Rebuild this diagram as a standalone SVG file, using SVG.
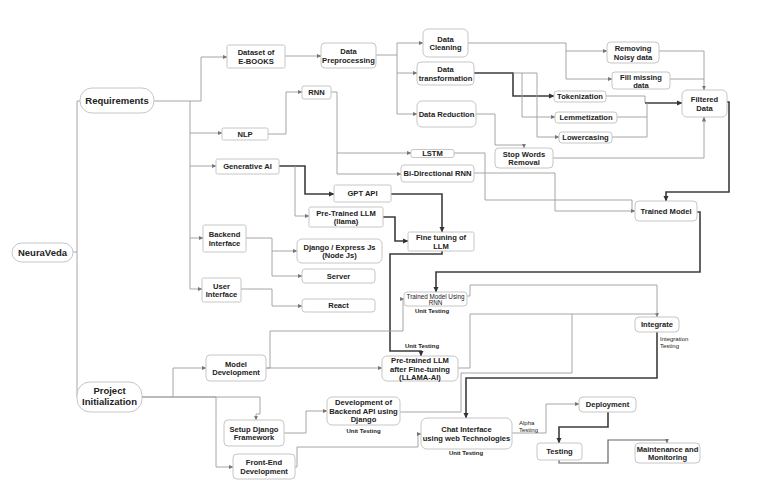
<svg xmlns="http://www.w3.org/2000/svg" width="768" height="497" viewBox="0 0 768 497">
<style>
.n rect{fill:#fff;stroke:#c6c6c6;stroke-width:1}
text{font-family:"Liberation Sans",Arial,sans-serif;font-weight:bold;font-size:7.6px;fill:#222;text-anchor:middle}
.big{font-size:9.5px}
.sm{font-size:6.3px;font-weight:normal}
.lb{font-size:6px}
.ln{font-size:6px;font-weight:normal;text-anchor:start}
.e{fill:none;stroke:#9c9c9c;stroke-width:0.9}
.k{fill:none;stroke:#3c3c3c;stroke-width:1.6}
.a{marker-end:url(#ag)}
.ak{marker-end:url(#ak)}
</style>
<defs>
<marker id="ag" markerUnits="userSpaceOnUse" markerWidth="5" markerHeight="5" refX="4.5" refY="2.5" orient="auto"><path d="M0,0.4 L5,2.5 L0,4.6 z" fill="#777"/></marker>
<marker id="ak" markerUnits="userSpaceOnUse" markerWidth="6" markerHeight="6" refX="5" refY="3" orient="auto"><path d="M0,0.5 L5.5,3 L0,5.5 z" fill="#333"/></marker>
</defs>
<rect width="768" height="497" fill="#fff"/>
<g id="connectors">
<path class="e" d="M80,101 H77 V397 H80"/>
<path class="e" d="M73,252 H77"/>
<path class="e a" d="M154,101 H201 V57 H227"/>
<path class="e a" d="M190,101 V289 H202"/>
<path class="e a" d="M190,133 H222"/>
<path class="e a" d="M190,166 H216"/>
<path class="e a" d="M190,238 H203"/>
<path class="e a" d="M285,56 H321"/>
<path class="e a" d="M376,55 H397 V43 H423"/>
<path class="e a" d="M397,55 V114 H417"/>
<path class="e a" d="M397,73 H417"/>
<path class="e a" d="M468,43 H566 V51 H607"/>
<path class="e a" d="M566,51 V79 H612"/>
<path class="k ak" d="M474,73 H513 V96 H554"/>
<path class="e a" d="M513,73 H537 V137 H559"/>
<path class="e a" d="M522,73 V117 H555"/>
<path class="e" d="M606,96 H645 V103"/>
<path class="k ak" d="M645,103 H682"/>
<path class="e" d="M617,117 H647 V103"/>
<path class="e" d="M612,137 H647 V117"/>
<path class="e a" d="M659,51 H704 V90"/>
<path class="e" d="M670,79 H704"/>
<path class="e a" d="M553,158 H704 V117"/>
<path class="e a" d="M476,114 H495 V145 H524 V148"/>
<path class="k ak" d="M727,102 H729 V192 H666 V201"/>
<path class="e a" d="M268,134 H286 V92 H302"/>
<path class="e a" d="M331,92 H337 V174 H401"/>
<path class="e a" d="M337,153 H411"/>
<path class="e" d="M454,153 H485 V200 H632 V211"/>
<path class="e a" d="M474,173 H555 V211 H635"/>
<path class="k ak" d="M279,166 H305 V194 H334"/>
<path class="e a" d="M295,166 V216 H309"/>
<path class="k ak" d="M391,194 H442 V232"/>
<path class="k ak" d="M383,217 H395 V241 H408"/>
<path class="e a" d="M246,238 H272 V251 H297"/>
<path class="e a" d="M272,251 V276 H302"/>
<path class="e a" d="M241,289 H272 V306 H302"/>
<path class="k ak" d="M442,251 V254 H390 V351 H421 V356"/>
<path class="k ak" d="M697,212 H700 V272 H436 V292"/>
<path class="e a" d="M266,368 H270 V331 H403 V299 H404"/>
<path class="e a" d="M266,368 H382"/>
<path class="e a" d="M467,296 H470 V285 H657 V317"/>
<path class="e" d="M458,368 H470 V314 H657"/>
<path class="e" d="M400,412 H461 V373 H572 V314"/>
<path class="k ak" d="M657,332 V378 H466 V418"/>
<path class="k" d="M142,397 H216" style="stroke:#777;stroke-width:1.2"/>
<path class="e a" d="M173,397 V368 H206"/>
<path class="e a" d="M216,397 H260 V414 H256 V420"/>
<path class="e a" d="M216,397 V467 H233"/>
<path class="e a" d="M284,433 H306 V411 H327"/>
<path class="e a" d="M295,467 H297 V447 H418 V434 H421"/>
<path class="e a" d="M512,433 H546 V404 H579"/>
<path class="k ak" d="M608,412 V427 H559 V443"/>
<path class="e a" d="M559,460 V463 H608 V440 H667 V443" style="stroke:#666;stroke-width:1.2"/>
</g>
<g id="neuraveda" class="n"><rect x="12" y="243" width="61" height="19" rx="9.5"/><text class="big" x="42.5" y="255.5">NeuraVeda</text></g>
<g id="requirements" class="n"><rect x="80" y="88" width="74" height="25" rx="12"/><text class="big" x="117" y="104">Requirements</text></g>
<g id="project-init" class="n"><rect x="77" y="382" width="65" height="30" rx="13"/><text class="big" x="109.5" y="394">Project</text><text class="big" x="109.5" y="405">Initialization</text></g>
<g id="dataset" class="n"><rect x="227" y="45" width="58" height="23" rx="1.5"/><text x="256" y="55">Dataset of</text><text x="256" y="63.5">E-BOOKS</text></g>
<g id="data-preprocessing" class="n"><rect x="321" y="43" width="55" height="25" rx="4"/><text x="348.5" y="54">Data</text><text x="348.5" y="62.5">Preprocessing</text></g>
<g id="data-cleaning" class="n"><rect x="423" y="29" width="45" height="28" rx="5"/><text x="445.5" y="41.5">Data</text><text x="445.5" y="50">Cleaning</text></g>
<g id="data-transformation" class="n"><rect x="417" y="62" width="57" height="23" rx="4"/><text x="445.5" y="72">Data</text><text x="445.5" y="80.5">transformation</text></g>
<g id="data-reduction" class="n"><rect x="417" y="101" width="59" height="26" rx="5"/><text x="446.5" y="116.5">Data Reduction</text></g>
<g id="removing-noisy" class="n"><rect x="607" y="42" width="52" height="21" rx="4"/><text x="633" y="51">Removing</text><text x="633" y="59.5">Noisy data</text></g>
<g id="fill-missing" class="n"><rect x="612" y="72" width="58" height="17" rx="3"/><text x="641" y="79.5">Fill missing</text><text x="641" y="87.5">data</text></g>
<g id="filtered-data" class="n"><rect x="682" y="90" width="45" height="27" rx="5"/><text x="704.5" y="102">Filtered</text><text x="704.5" y="110.5">Data</text></g>
<g id="tokenization" class="n"><rect x="554" y="91" width="52" height="11" rx="3"/><text x="580" y="99">Tokenization</text></g>
<g id="lemmetization" class="n"><rect x="555" y="112" width="62" height="11" rx="3"/><text x="586" y="120">Lemmetization</text></g>
<g id="lowercasing" class="n"><rect x="559" y="132" width="53" height="11" rx="3"/><text x="585.5" y="140">Lowercasing</text></g>
<g id="stop-words" class="n"><rect x="495" y="148" width="58" height="20" rx="4"/><text x="524" y="156.5">Stop Words</text><text x="524" y="165">Removal</text></g>
<g id="rnn" class="n"><rect x="302" y="86" width="29" height="13" rx="2"/><text x="316.5" y="95">RNN</text></g>
<g id="nlp" class="n"><rect x="222" y="128" width="46" height="12" rx="1.5"/><text x="245" y="136.8">NLP</text></g>
<g id="lstm" class="n"><rect x="411" y="149.5" width="43" height="8" rx="2"/><text x="432.5" y="156.3">LSTM</text></g>
<g id="bi-rnn" class="n"><rect x="401" y="165" width="73" height="17" rx="3"/><text x="437.5" y="176.2">Bi-Directional RNN</text></g>
<g id="generative-ai" class="n"><rect x="216" y="159" width="63" height="15" rx="1.5"/><text x="247.5" y="169.2">Generative AI</text></g>
<g id="gpt-api" class="n"><rect x="334" y="185" width="57" height="17" rx="1.5"/><text x="362.5" y="196.2">GPT API</text></g>
<g id="pretrained-llama" class="n"><rect x="309" y="207" width="74" height="20" rx="1.5"/><text x="346" y="215.5">Pre-Trained LLM</text><text x="346" y="224">(llama)</text></g>
<g id="fine-tuning" class="n"><rect x="408" y="232" width="66" height="19" rx="1.5"/><text x="441" y="240">Fine tuning of</text><text x="441" y="248.5">LLM</text></g>
<g id="trained-model" class="n"><rect x="635" y="201" width="62" height="20" rx="4"/><text x="666" y="213.7">Trained Model</text></g>
<g id="backend-interface" class="n"><rect x="203" y="225" width="43" height="27" rx="1.5"/><text x="224.5" y="237">Backend</text><text x="224.5" y="245.5">Interface</text></g>
<g id="django-express" class="n"><rect x="297" y="239" width="85" height="24" rx="5"/><text x="339.5" y="249.5">Django / Express Js</text><text x="339.5" y="258">(Node Js)</text></g>
<g id="server" class="n"><rect x="302" y="269" width="73" height="14" rx="3"/><text x="338.5" y="278.7">Server</text></g>
<g id="user-interface" class="n"><rect x="202" y="278" width="39" height="24" rx="1.5"/><text x="221.5" y="288.5">User</text><text x="221.5" y="297">Interface</text></g>
<g id="react" class="n"><rect x="302" y="299" width="73" height="13" rx="3"/><text x="338.5" y="308.2">React</text></g>
<g id="trained-rnn" class="n"><rect x="404" y="292" width="63" height="14" rx="3"/><text class="sm" x="435.5" y="298.5">Trained Model Using</text><text class="sm" x="435.5" y="305">RNN</text><text class="lb" x="432" y="312.5">Unit Testing</text></g>
<g id="integrate" class="n"><rect x="635" y="317" width="44" height="15" rx="4"/><text x="657" y="327.2">Integrate</text><text class="ln" x="660" y="341">Integration</text><text class="ln" x="660" y="348">Testing</text></g>
<g id="model-development" class="n"><rect x="206" y="355" width="60" height="26" rx="4"/><text x="236" y="366.5">Model</text><text x="236" y="375">Development</text></g>
<g id="pretrained-after" class="n"><text class="lb" x="422" y="348">Unit Testing</text><rect x="382" y="356" width="76" height="25" rx="5"/><text x="420" y="363">Pre-trained LLM</text><text x="420" y="371.5">after Fine-tuning</text><text x="420" y="380">(LLAMA-AI)</text></g>
<g id="setup-django" class="n"><rect x="224" y="420" width="60" height="26" rx="4"/><text x="254" y="431.5">Setup Django</text><text x="254" y="440">Framework</text></g>
<g id="backend-api" class="n"><rect x="327" y="397" width="73" height="28" rx="5"/><text x="363.5" y="405">Development of</text><text x="363.5" y="413.5">Backend API using</text><text x="363.5" y="422">Django</text><text class="lb" x="363.5" y="433">Unit Testing</text></g>
<g id="front-end" class="n"><rect x="233" y="454" width="62" height="25" rx="4"/><text x="264" y="465">Front-End</text><text x="264" y="473.5">Development</text></g>
<g id="chat-interface" class="n"><rect x="421" y="418" width="91" height="31" rx="6"/><text x="466.5" y="432">Chat Interface</text><text x="466.5" y="440.5">using web Technologies</text><text class="lb" x="466" y="455">Unit Testing</text><text class="ln" x="519" y="425">Alpha</text><text class="ln" x="519" y="432">Testing</text></g>
<g id="deployment" class="n"><rect x="579" y="397" width="57" height="15" rx="4"/><text x="607.5" y="407.2">Deployment</text></g>
<g id="testing" class="n"><rect x="537" y="443" width="45" height="17" rx="3"/><text x="559.5" y="454.2">Testing</text></g>
<g id="maintenance" class="n"><rect x="635" y="443" width="65" height="20" rx="4"/><text x="667.5" y="451.5">Maintenance and</text><text x="667.5" y="460">Monitoring</text></g>
</svg>
